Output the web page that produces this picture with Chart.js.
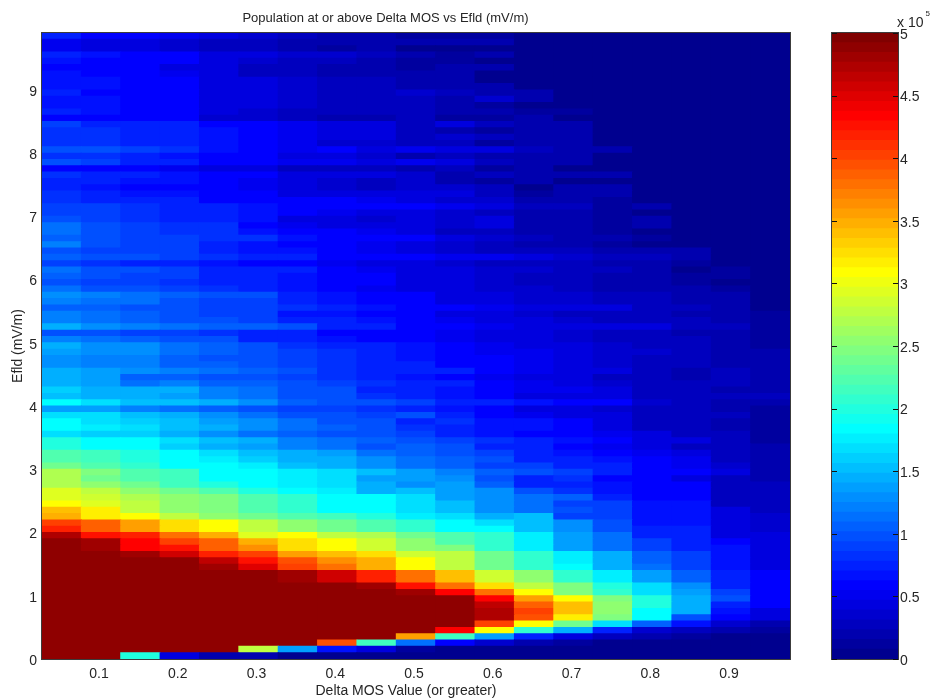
<!DOCTYPE html>
<html>
<head>
<meta charset="utf-8">
<title>Population at or above Delta MOS vs Efld</title>
<script src="https://cdn.jsdelivr.net/npm/chart.js@4/dist/chart.umd.min.js"></script>
<style>
  html, body { margin: 0; background: #fff; }
  #wrap { position: relative; width: 932px; height: 700px; overflow: hidden; }
  #barExp { position: absolute; left: 897px; top: 14px; font: 14px "Liberation Sans", Arial, sans-serif; color: #262626; }
  #barExp sup { font-size: 8px; position: relative; top: -5px; vertical-align: top; margin-left: 2px; }
</style>
</head>
<body>
<div id="wrap">
  <div style="position:absolute;left:0;top:0;width:800px;height:700px"><canvas id="heatCanvas"></canvas></div>
  <div style="position:absolute;left:820px;top:0;width:112px;height:700px"><canvas id="barCanvas"></canvas></div>
  <div id="barExp">x 10<sup>5</sup></div>
</div>
<script>
const mosLabels = ['0.05','0.1','0.15','0.2','0.25','0.3','0.35','0.4','0.45','0.5','0.55','0.6','0.65','0.7','0.75','0.8','0.85','0.9','0.95'];
const efldTicks = [0,1,2,3,4,5,6,7,8,9];
const barTicks = [0,5,10,15,20,25,30,35,40,45,50];
const efldStep = 0.1;
const efldMax = 9.9;
const popMax = 50;   // population is stored in units of 10^4

// one row per 0.1 mV/m of Efld, bottom row first, one value per Delta MOS column
const popRows = [
  [49,49,20,5,2,2,1,1,1,1,1,.5,.5,.5,.5,.5,.5,.5,.5],
  [49,49,49,49,49,28,14,7,5,1.5,1,.7,.5,.5,.5,.5,.5,.5,.5],
  [49,49,49,49,49,49,49,40,22,12,6.5,4,2,1.5,1,1,.7,.7,.7],
  [49,49,49,49,49,49,49,49,49,36,22,14,8,5,3,2,1.5,1,1],
  [49,49,49,49,49,49,49,49,49,49,44,31,21,15,8,4,3,2,1.5],
  [49,49,49,49,49,49,49,49,49,49,49,41,31,24,17,11,7,4,2],
  [49,49,49,49,49,49,49,49,49,49,49,48,40,32,25,19,10,6,5],
  [49,49,49,49,49,49,49,49,49,49,49,48,41,34,26,19,15,7,5],
  [49,49,49,49,49,49,49,49,49,49,49,47,39,34,26,20,15,8,6],
  [49,49,49,49,49,49,49,49,49,49,49,44,36,31,25,20,15,10,6],
  [49,49,49,49,49,49,49,49,49,48.5,44,38,31,25,21,17,14,9,6],
  [49,49,49,49,49,49,49,49,48.5,43,38,33,28,25,20,17,13,8,6],
  [49,49,49,49,49,49,48.5,46,42,38,34,29,26,21,18,14,11,8,6],
  [49,49,49,49,49,49,48.5,46,42,38,34,29,26,21,18,14,11,8,6],
  [49,49,49,49,48.5,45,41,38,35,31,28,24,21,19,15,12,9,7,5],
  [49,49,49,49,47,43,40,37,35,31,28,24,21,18,15,11,9,7,5],
  [49,49,48.5,46,42,41,36,34,33,29,28,24,21,18,15,11,9,7,5],
  [49,48.5,44,43,39,37,33,31,29,26,25,21,18,14,12,9,8,7,5],
  [49,48.5,44,41,39,35,33,31,29,26,23,21,18,14,12,9,8,6,5],
  [48,43,42,38,35,30,31,28,27,24,23,21,18,14,12,8,8,5,5],
  [42,39,36,33,31,28,26,24,23,21,19,19,16,13,10,8,8,5,4],
  [41,39,36,33,31,28,26,24,23,21,19,17,16,13,10,7,7,5,4],
  [35,32,31,28,26,24,23,22,20,18,17,15,16,9,9,7,7,5,4],
  [34,32,28,26,25,23,21,19,19,17,16,13,12,10,9,7,7,5,3],
  [31,30,28,26,25,23,21,19,19,17,16,13,12,9,9,7,7,3,3],
  [30,29,27,26,25,23,21,19,19,17,14,13,12,11,8,6,6,3,3],
  [30,28,26,24,23,20,19,18,15,16,14,13,10,8.5,7,6,6,3,3],
  [27,26,24,22,20,19,18,17,15,13,14,11,8,8,7,6,6,3,3],
  [27,24,23,22,19,19,18,17,14,14,13,10.5,8,8.5,6,6,5,3,2.5],
  [27,25,23,22,19,19,18,17,16,14,12.5,11,10,9,8,6,6,4.5,2.5],
  [24,23,21,19,19,18,16,15,13,12,11,9.5,9.5,7.5,7.5,6,5.5,4,2.5],
  [23,22,20,19,18,16.5,15,15,13,11.5,11,10,8,7.5,7,6,5.5,3.5,2.5],
  [23,22,20,19,17,16,14.5,14,12,11,10,9,8,7,6,5.5,5,3,2],
  [20,19,18.5,16.5,15,14,12.5,11.5,10.5,11,10,8,7.5,6,5.5,4.5,3,3,2],
  [20,19,18.5,17,16,14.5,12.5,12,11,10.5,9,8.5,8,7,6,5,4.5,3.5,1.5],
  [17,16.5,16.5,15,13,12,11,10,10,9,8,7,6.5,6,5.5,4.5,3,3,1.5],
  [19,18,17.5,16,15,13,12,11,10.5,8.5,8,7,7,6,4.5,3.5,3.5,2.5,1.5],
  [19,17.5,16.5,16,14,13,11.5,10.5,10,7.5,8.5,7,7,6,4.5,3.5,3,2,1.5],
  [17.5,17,16,15,13,12,10.5,10,9.5,10,8,6.5,5.5,4.5,4.5,3.5,3,3,1.5],
  [14,14,12.5,12,11,10.5,9.5,9,8.5,7.5,7,6,5,4.5,4,3,3,2.5,1.5],
  [19,17,16,16,14.5,13,11,10.5,10,9,8,8,7,6.5,6.5,4,3.5,2.5,2.5],
  [16,15,14.5,14,12.5,12,10.5,10,8.5,7.5,7,6,5,5,4.5,3.5,3,3.5,3.5],
  [16.5,15,15,14.5,12.5,12,10.5,10,8,8,7,6,5.5,5.5,4.5,3.5,3,2,2.5],
  [15,14,12,12.5,11,11,10,9,8.5,8,7.5,6,5.5,4.5,4,3.5,3,3,2],
  [15,14,11,11,10,10.5,9,8.5,7.5,7,6.5,5.5,4.5,4.5,3.5,3,2.5,3,2],
  [15,14,13,12.5,11.5,11,10,8.5,8,8,7.5,6,5.5,5,4.5,3.5,2,3,2],
  [13,12.5,12.5,11,11,10.5,9.5,8.5,8,7.5,6.5,6,5.5,4.5,4,3.5,3,2.5,2],
  [13,12.5,12.5,11,10.5,10.5,9.5,8.5,8,7,6.5,6,5.5,4.5,4,3.5,3,2.5,2],
  [14,13,13,11.5,11,10,9,8.5,8,7,6,5.5,5.5,4.5,4,4,3,2.5,2],
  [14.5,13,13,12,11,10,8.5,8,7.5,7,6,5.5,5,4.5,4,3.5,3,2.5,1.5],
  [12.5,12,11,10.5,10,8,7.5,7,6.5,6,5.5,5,4.5,4,3.5,3,3,2,1.5],
  [10,10,9.5,9,8.5,8,7.5,6.5,6,6,5.5,5,4.5,4,3.5,3,2.5,2,1.5],
  [14.5,13,12.5,12,11,11,10,8,8,6.5,6.5,5.5,5,5,4.5,4.5,3.5,3,1.5],
  [12.5,12,11,10.5,10,9.5,8,7.5,7,6,5.5,5,4.5,4,3.5,3,3,2.5,1.5],
  [12.5,11.5,11,10,9.5,9,7,7,6.5,6,5,4.5,4,3.5,3.5,3,2,2,1.5],
  [11,11,10.5,10,9,9,8.5,8,7,6.5,6.5,5.5,5,5,5,3.5,3,2.5,1],
  [12.5,12,11.5,10,9.5,9,8,7,6.5,6,5,4.5,4,4,3,3,2.5,2.5,1],
  [13.5,12.5,12,11,10.5,10,8,7,6.5,6,5,4.5,4,4,3,3,2.5,2,1],
  [11.5,10.5,10,9,8.5,8,7,6,5.5,5,4.5,4,4,3.5,2.5,2.5,2,1.5,1],
  [10,9.5,9,8.5,8,7.5,7,6.5,6,5,4.5,4,3.5,3.5,2.5,2.5,1.5,1,1],
  [11,10,9.5,9,8,8,7,6.5,6,5,4.5,4,3.5,3.5,2.5,2.5,1.5,1.5,1],
  [11.5,10.5,10,9.5,8,7.5,7.5,6,5.5,5,4.5,4,4,3.5,3,2.5,1,1.5,1],
  [9.5,8.5,8,8,7,6,6,5.5,5,4.5,4,3.5,3,3,2,2,1.5,1,1],
  [11,10.5,10.5,9.5,8.5,8,7.5,6.5,6,6,5.5,5.5,5,4,3.5,3,2.5,1,1],
  [10,9.5,9.5,9,8,7,7,6,5.5,5,4,3.5,3.5,3,2.5,2.5,2,1,1],
  [12.5,10,9.5,9,8,7,6.5,6,5.5,5,4,3,2.5,2.5,1.5,.7,1,1,.5],
  [11,10,9.5,9,8.5,8.5,7,6,6,6,5,4,3,2.5,2,1.5,.7,.6,.5],
  [12,10,9,8.5,8.5,7,6.5,6,5.5,5,3.5,3,2.5,2,1.5,.8,.6,.6,.5],
  [12,10,9,8.5,8.5,6.5,5.5,5,5,5,4,4.5,2.5,2,1.5,2,.6,.5,.5],
  [10,9,8.5,7.5,8,7,5,5,4,5,4,4.5,2.5,2,1.5,2,.6,.5,.5],
  [9.5,9,8.5,8,8,7,6,5.5,5,4.5,4,3.5,2.5,2,1.5,.8,.6,.5,.5],
  [9.5,9,8.5,8,8,7,6.5,6.5,6,6,5.5,4.5,3.5,3,1.5,2.5,.6,.5,.5],
  [8.5,8,8,7.5,6.5,6.5,6,6,5.5,5,4,4,2.5,2,1.5,1,.6,.5,.5],
  [8.5,8,7,7,6.5,6,5,5,4.5,4.5,4.5,3,1.5,2,2,.6,.5,.5,.5],
  [7.5,7,6.5,6.5,6,5.5,4.5,4,3.5,4,4,3,1,2,2,.6,.5,.5,.5],
  [8,7.5,7,7,6,5.5,5,4,3.5,4,2.5,1.5,2,1,1,.6,.5,.5,.5],
  [8.5,8,7.5,7,6.5,6,5,5,4.5,4,2.5,3,2,2,2,.6,.5,.5,.5],
  [6.5,6.5,6,5.5,5,4.5,3.5,3.5,3.5,2.5,3,1.5,2,1,1,.6,.5,.5,.5],
  [10,9,8,7.5,6.5,6,5.5,5.5,4.5,5.5,4.5,3,2,2,1,.6,.5,.5,.5],
  [8.5,8.5,7.5,7,6.5,6,5,4.5,4,2.5,3,2,2,2,1,.6,.5,.5,.5],
  [10,10,9,8.5,7,6.5,5.5,6,4.5,5.5,4.5,5,3,2,2,.7,.5,.5,.5],
  [8.5,8.5,8,7.5,7,6.5,5.5,4,4,3,3,1.5,2,2,.8,.6,.5,.5,.5],
  [8.5,8.5,8,7.5,7,6.5,5.5,4.5,4.5,3.5,4,3.5,2.5,2,.8,.6,.5,.5,.5],
  [8.5,8.5,8,7.5,7,6,5.5,4.5,4.5,3.5,2.5,1.5,2,2,.7,.6,.5,.5,.5],
  [9,8,8,7.5,6.5,6,5.5,5,4.5,3.5,4.5,3.5,2,2,.7,.6,.5,.5,.5],
  [6.5,6.5,6.5,6,4,4,3,2,2.5,3,1.5,1.5,2,1,.7,.6,.5,.5,.5],
  [7.5,7,6.5,6.5,4.5,4,3,3,3,3,2.5,2.5,1.5,1.5,.7,.6,.5,.5,.5],
  [7,7,6.5,6,5,4.5,4,3,3,3,2.5,1.5,1,1,.7,.6,.5,.5,.5],
  [7,7,6.5,6.5,5,4.5,4,3,3,3,2.5,4,2.5,.7,.6,.6,.5,.5,.5],
  [7.5,6.5,6,6,5,5,4,3.5,3,4,3,2.5,2,.7,.6,.6,.5,.5,.5],
  [7,7,6.5,6,5,4.5,4,3,3,2.5,2.5,2.5,1,.7,.6,.6,.5,.5,.5],
  [7,7,6,6,5,4.5,4,3.5,3,2.5,2.5,.8,.8,.7,.6,.6,.5,.5,.5],
  [7,6.5,6.5,5.5,4.5,3,3.5,2.5,2.5,2,2,.8,.7,.6,.6,.6,.5,.5,.5],
  [6.5,6.5,6.5,5,4.5,3.5,3.5,2.5,2.5,1.5,2,2,.7,.6,.6,.6,.5,.5,.5],
  [7,6.5,6.5,6,4.5,4,3.5,3,2.5,1.5,1.5,.8,.7,.6,.6,.6,.5,.5,.5],
  [7.5,7,6,6,4.5,4.5,4,4,3.5,2.5,1.5,2,.7,.6,.6,.6,.5,.5,.5],
  [5.5,5,4.5,4,3,3,2,1.5,2,1,.8,.8,.7,.6,.6,.6,.5,.5,.5],
  [5.5,5,4.5,4,3,3,2,2,2.5,2,2.5,2.5,.7,.6,.6,.6,.5,.5,.5],
  [8,6.5,6,5.5,4.5,4,3.5,2.5,2.5,1.2,1.5,1.5,.7,.6,.6,.6,.5,.5,.5]
];

// MATLAB jet with 64 flat levels
function jetAt(level) {
  const t = (level + 1) / 64;
  const c = x => Math.round(255 * Math.max(0, Math.min(1, x)));
  return `rgb(${c(Math.min(4 * t - 1.5, -4 * t + 4.5))},${c(Math.min(4 * t - 0.5, -4 * t + 3.5))},${c(Math.min(4 * t + 0.5, -4 * t + 2.5))})`;
}
function popColor(v) {
  return jetAt(Math.max(0, Math.min(63, Math.floor(v / popMax * 64 - 0.5))));
}

const textColor = '#262626';
const fontFamily = '"Liberation Sans", Arial, sans-serif';

// box round the plot
const frame = {
  id: 'frame',
  afterDraw(chart) {
    const a = chart.chartArea;
    const c = chart.ctx;
    c.save();
    c.strokeStyle = '#3c3c3c';
    c.lineWidth = 1;
    c.strokeRect(Math.round(a.left) - 0.5, Math.round(a.top) - 0.5, Math.round(a.width) + 1, Math.round(a.height) + 1);
    c.restore();
  }
};

// the title and xlabel of the original sit left of the axes centre
const shiftTitles = {
  id: 'shiftTitles',
  afterLayout(chart) {
    chart.titleBlock.left = 0;
    chart.titleBlock.right = 771;
    const sub = chart.boxes.find(b => b.options && b.options.text === 'Delta MOS Value (or greater)');
    if (sub) { sub.left = 0; sub.right = 812; }
  }
};

// colorbar ticks point inwards on both sides
const inwardTicks = {
  id: 'inwardTicks',
  afterDraw(chart) {
    const a = chart.chartArea;
    const y = chart.scales.y;
    const c = chart.ctx;
    c.save();
    c.strokeStyle = '#111';
    c.lineWidth = 1;
    c.beginPath();
    y.ticks.forEach(t => {
      const py = Math.round(y.getPixelForValue(t.value)) + 0.5;
      c.moveTo(a.left, py); c.lineTo(a.left + 5, py);
      c.moveTo(a.right, py); c.lineTo(a.right - 5, py);
    });
    c.stroke();
    c.restore();
  }
};

new Chart(document.getElementById('heatCanvas'), {
  type: 'bar',
  data: {
    labels: mosLabels,
    datasets: popRows.map((row, i) => ({
      label: 'Efld ' + (i * efldStep).toFixed(1),
      data: row.map(() => efldStep),
      backgroundColor: row.map(popColor),
      borderWidth: 0,
      inflateAmount: 0.5,
      categoryPercentage: 1,
      barPercentage: 1
    }))
  },
  options: {
    responsive: true,
    maintainAspectRatio: false,
    animation: false,
    layout: { padding: { right: 10 } },
    plugins: {
      legend: { display: false },
      tooltip: { enabled: false },
      title: {
        display: true,
        text: 'Population at or above Delta MOS vs Efld (mV/m)',
        color: textColor,
        font: { family: fontFamily, size: 13, weight: 'normal' },
        padding: { top: 11, bottom: 6.4 }
      },
      subtitle: {
        display: true,
        position: 'bottom',
        text: 'Delta MOS Value (or greater)',
        color: textColor,
        font: { family: fontFamily, size: 14, weight: 'normal' },
        padding: { top: 0, bottom: 0.5 }
      }
    },
    scales: {
      x: {
        stacked: true,
        afterFit: s => { s.height = 23.7; },
        grid: { display: false, drawTicks: false },
        border: { display: false },
        ticks: {
          autoSkip: false,
          maxRotation: 0,
          padding: 7,
          labelOffset: -2,
          color: textColor,
          font: { family: fontFamily, size: 14 },
          callback: (v, i) => (i % 2 === 1 ? mosLabels[i] : '')
        }
      },
      y: {
        stacked: true,
        min: 0,
        max: efldMax,
        afterFit: s => { s.width = 42; },
        afterBuildTicks: s => { s.ticks = efldTicks.map(v => ({ value: v })); },
        grid: { display: false, drawTicks: false },
        border: { display: false },
        title: {
          display: true,
          text: 'Efld (mV/m)',
          color: textColor,
          font: { family: fontFamily, size: 14 },
          padding: { top: 10, bottom: 0 }
        },
        ticks: {
          padding: 5,
          labelOffset: 2,
          color: textColor,
          font: { family: fontFamily, size: 14 }
        }
      }
    }
  },
  plugins: [shiftTitles, frame]
});

const barLevels = Array.from({ length: 64 }, (_, i) => i);

new Chart(document.getElementById('barCanvas'), {
  type: 'bar',
  data: {
    labels: [''],
    datasets: barLevels.map(level => ({
      data: [popMax / 64],
      backgroundColor: jetAt(level),
      borderWidth: 0,
      inflateAmount: 0.5,
      categoryPercentage: 1,
      barPercentage: 1
    }))
  },
  options: {
    responsive: true,
    maintainAspectRatio: false,
    animation: false,
    layout: { padding: { left: 12, top: 33, bottom: 41 } },
    plugins: { legend: { display: false }, tooltip: { enabled: false } },
    scales: {
      x: { stacked: true, display: false },
      y: {
        stacked: true,
        position: 'right',
        min: 0,
        max: popMax,
        afterFit: s => { s.width = 34; },
        afterBuildTicks: s => { s.ticks = barTicks.map(v => ({ value: v })); },
        grid: { display: false, drawTicks: false },
        border: { display: false },
        ticks: {
          padding: 2,
          labelOffset: 2,
          autoSkip: false,
          color: textColor,
          font: { family: fontFamily, size: 14 },
          callback: v => String(v / 10)
        }
      }
    }
  },
  plugins: [frame, inwardTicks]
});
</script>
</body>
</html>
